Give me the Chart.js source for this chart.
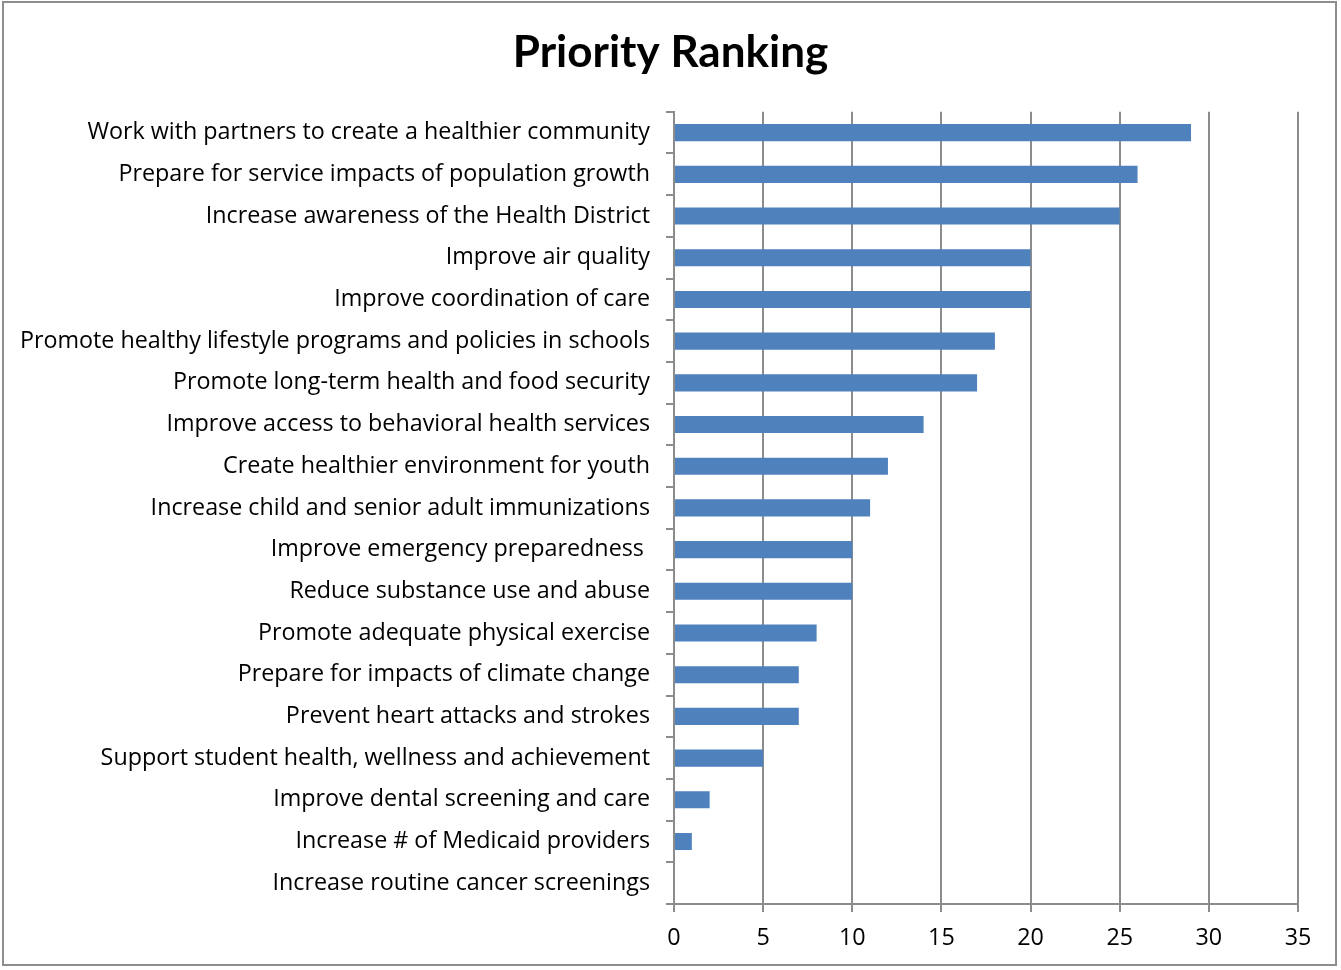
<!DOCTYPE html>
<html>
<head>
<meta charset="utf-8">
<script src="https://cdn.jsdelivr.net/npm/chart.js@4/dist/chart.umd.min.js"></script>
<style>
  html, body { margin: 0; padding: 0; background: #fff; }
  #frame {
    position: absolute; left: 2px; top: 1px; width: 1335px; height: 965px;
    border: 2px solid #8e8e8e; box-sizing: border-box;
  }
  #chart { position: absolute; left: 0; top: 0; }
</style>
</head>
<body>
<div id="frame"></div>
<canvas id="chart" width="1341" height="970"></canvas>
<script>
// Priorities, ordered from most to least votes
const priorities = [
  "Work with partners to create a healthier community",
  "Prepare for service impacts of population growth",
  "Increase awareness of the Health District",
  "Improve air quality",
  "Improve coordination of care",
  "Promote healthy lifestyle programs and policies in schools",
  "Promote long-term health and food security",
  "Improve access to behavioral health services",
  "Create healthier environment for youth",
  "Increase child and senior adult immunizations",
  "Improve emergency preparedness ",
  "Reduce substance use and abuse",
  "Promote adequate physical exercise",
  "Prepare for impacts of climate change",
  "Prevent heart attacks and strokes",
  "Support student health, wellness and achievement",
  "Improve dental screening and care",
  "Increase # of Medicaid providers",
  "Increase routine cancer screenings"
];
const votes = [29, 26, 25, 20, 20, 18, 17, 14, 12, 11, 10, 10, 8, 7, 7, 5, 2, 1, 0];
const axisTicks = [0, 5, 10, 15, 20, 25, 30, 35];

const gridGray = '#8c8c8c';
const labelFont = { family: '"Open Sans", Lato, sans-serif', size: 23.3 };

new Chart(document.getElementById('chart'), {
  type: 'bar',
  data: {
    labels: priorities,
    datasets: [{
      data: votes,
      backgroundColor: '#4f81bd',
      borderWidth: 0,
      categoryPercentage: 1,
      barPercentage: 0.41
    }]
  },
  options: {
    indexAxis: 'y',
    responsive: false,
    animation: false,
    layout: { padding: { left: 0, right: 0, top: 0, bottom: 6 } },
    plugins: {
      legend: { display: false },
      tooltip: { enabled: false },
      title: {
        display: true,
        text: 'Priority Ranking',
        color: '#000',
        font: { family: 'Lato, "Open Sans", sans-serif', size: 44, weight: 'bold' },
        padding: { top: 26, bottom: 33 }
      }
    },
    scales: {
      x: {
        min: 0,
        max: 35,
        afterBuildTicks: (scale) => { scale.ticks = axisTicks.map(v => ({ value: v })); },
        ticks: { color: '#000', font: labelFont, padding: 12, maxRotation: 0 },
        grid: { color: gridGray, lineWidth: 2, tickLength: 8, drawTicks: true },
        border: { color: gridGray, width: 2 }
      },
      y: {
        afterFit: (scale) => { scale.width = 674; },
        ticks: { color: '#000', font: labelFont, padding: 16, autoSkip: false },
        grid: { offset: true, drawOnChartArea: false, color: gridGray, lineWidth: 2, tickLength: 8 },
        border: { color: gridGray, width: 2 }
      },
      // empty margin on the right of the plot
      spacer: {
        type: 'linear',
        position: 'right',
        afterFit: (scale) => { scale.width = 43; },
        ticks: { display: false },
        grid: { display: false },
        border: { display: false }
      }
    }
  }
});
</script>
</body>
</html>
